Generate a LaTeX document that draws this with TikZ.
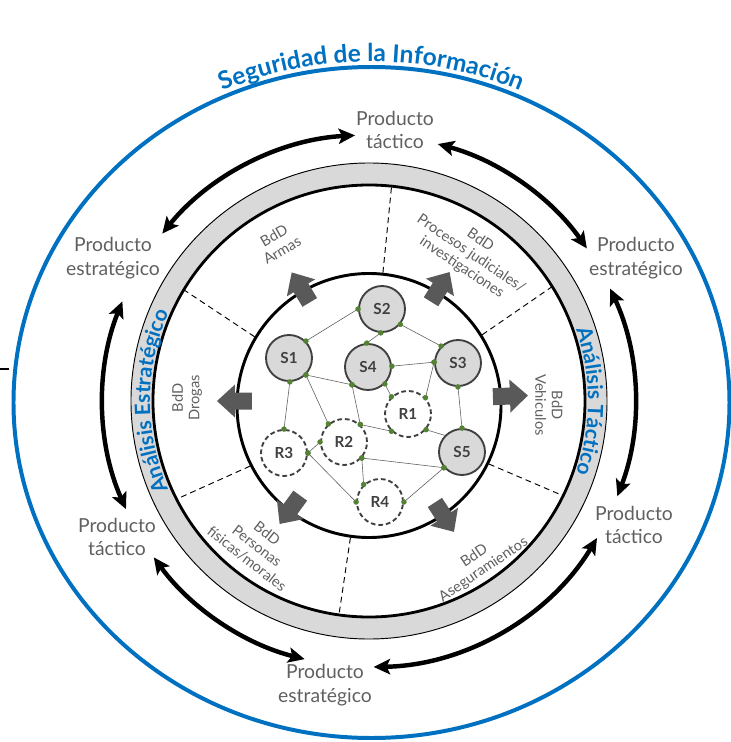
\documentclass[tikz,border=0pt]{standalone}
\usepackage{fontspec}
\setmainfont{Lato}
\usetikzlibrary{arrows.meta,decorations.text}

\definecolor{infoblue}{HTML}{0070C0}
\definecolor{ringgray}{HTML}{D9D9D9}
\definecolor{darkline}{HTML}{404040}
\definecolor{labelgray}{HTML}{606060}
\definecolor{dotgreen}{HTML}{548235}
\definecolor{blockgray}{HTML}{595959}

\begin{document}
\begin{tikzpicture}[x=0.03cm, y=0.03cm,
  sys/.style={circle, draw=darkline, line width=1.6pt, fill=ringgray, minimum size=1.38cm,
    inner sep=0pt, font=\fontsize{13}{13}\selectfont\bfseries, text=darkline},
  res/.style={sys, fill=white, dash pattern=on 4pt off 2.5pt},
  dotlink/.style={draw=labelgray, line width=0.5pt, shorten <=-2.3pt, shorten >=-2.3pt,
    {Circle[length=4.6pt,color=dotgreen]}-{Circle[length=4.6pt,color=dotgreen]}},
  prod/.style={align=center, text=labelgray, font=\fontsize{16.5}{20}\selectfont},
  sector/.style={align=center, text=labelgray, font=\fontsize{12.5}{14}\selectfont},
  divider/.style={line width=0.8pt, dash pattern=on 5pt off 3.5pt},
  cycarrow/.style={line width=3.8pt, {Stealth[length=14pt,width=13pt,inset=3pt]}-{Stealth[length=14pt,width=13pt,inset=3pt]}},
  blockarrow/.pic={\fill[blockgray] (0,-8.5) -- (17,-8.5) -- (17,-16.5) -- (35,0) -- (17,16.5) -- (17,8.5) -- (0,8.5) -- cycle;}]
\useasboundingbox (-369,-341) rectangle (362,401);

% outer frame
\draw[infoblue, line width=3.4pt] (2.5,-1.5) ellipse [x radius=358, y radius=335.5];
\path[decorate, decoration={text along path, text align=center,
  text={|\fontsize{21}{21}\selectfont\bfseries\color{infoblue}|Seguridad de la Información}}]
  (2.5,-1.5) ++(135:365 and 341) arc[start angle=135, end angle=45, x radius=365, y radius=341];
\draw[line width=1.2pt] (-369,32) -- (-360,32);

% gray ring
\node[circle, draw=black, line width=0.8pt, fill=ringgray, minimum size=14.28cm, inner sep=0pt] (ringout) at (0,0) {};
\node[circle, draw=black, line width=2.4pt, fill=white, minimum size=12.96cm, inner sep=0pt] (ringin) at (0,0) {};
\path[decorate, decoration={text along path, text align=center,
  text={|\fontsize{18}{18}\selectfont\bfseries\color{infoblue}|Análisis Estratégico}}]
  (215:219) arc[start angle=215, end angle=145, radius=219];
\path[decorate, decoration={text along path, text align=center,
  text={|\fontsize{18}{18}\selectfont\bfseries\color{infoblue}|Análisis Táctico}}]
  (30:219) arc[start angle=30, end angle=-30, radius=219];

% inner circle and sectors
\node[circle, draw=black, line width=2.5pt, minimum size=7.92cm, inner sep=0pt] (core) at (0,-4.5) {};
\foreach \a in {84,32,-26,-98,207,149}
  \draw[divider] (core.\a) -- (ringin.\a);
\foreach \a/\r in {121/115, 58/117, 2/124, 180/117, 234/117, -57/121}
  \pic[rotate=\a] at (\a:\r) {blockarrow};

\node[sector, rotate=30] (armas) at (-91,158) {BdD\\Armas};
\node[sector, rotate=-34] (procesos) at (102,147) {BdD\\Procesos judiciales/\\investigaciones};
\node[sector, rotate=-90] (vehiculos) at (180,-4) {BdD\\Vehiculos};
\node[sector, rotate=90] (drogas) at (-182,3) {BdD\\Drogas};
\node[sector, rotate=-38] (personas) at (-112,-145) {BdD\\Personas\\físicas/morales};
\node[sector, rotate=34] (aseguramientos) at (110,-162) {BdD\\Aseguramientos};

% network
\node[sys] (s1) at (-80,43) {S1};
\node[sys] (s2) at (13,92) {S2};
\node[sys] (s3) at (89,38) {S3};
\node[sys] (s4) at (-1,34) {S4};
\node[sys] (s5) at (93,-51) {S5};
\node[res] (r1) at (39,-13) {R1};
\node[res] (r2) at (-25,-41) {R2};
\node[res] (r3) at (-85,-52) {R3};
\node[res] (r4) at (11,-101) {R4};

\draw[dotlink] (s1.45) -- (s2.180);
\draw[dotlink] (s2.267) -- (s4.93);
\draw[dotlink] (s2.320) -- (s3.135);
\draw[dotlink] (s4.2) -- (s3.178);
\draw[dotlink] (s1.315) -- (s4.228);
\draw[dotlink] (s1.272) -- (r3.90);
\draw[dotlink] (s1.315) -- (r2.131);
\draw[dotlink] (s4.228) -- (r2.47);
\draw[dotlink] (s4.315) -- (r1.134);
\draw[dotlink] (s3.178) -- (r1.43);
\draw[dotlink] (s3.270) -- (s5.90);
\draw[dotlink] (r2.47) -- (r1.226);
\draw[dotlink, {Circle[length=4.6pt,color=dotgreen]}-, shorten >=0pt] (r1.319) -- (s5.136);
\draw[dotlink] (r2.318) -- (s5.221);
\draw[dotlink] (r2.180) -- (r3.0);
\draw[dotlink] (r3.0) -- (r4.180);
\draw[dotlink] (r2.318) -- (r4.133);
\draw[dotlink] (r4.0) -- (s5.221);

% products around the ring
\node[prod] (pt1) at (26,271) {Producto\\táctico};
\node[prod] (pe1) at (267,143) {Producto\\estratégico};
\node[prod] (pt2) at (265,-124) {Producto\\táctico};
\node[prod] (pe2) at (-44,-284) {Producto\\estratégico};
\node[prod] (pt3) at (-252,-136) {Producto\\táctico};
\node[prod] (pe3) at (-256,143) {Producto\\estratégico};
\foreach \a/\b in {141/93, 75/35, 25/-21, -31/-89, 256/216, 158/204}
  \draw[cycarrow] (\a:266) arc[start angle=\a, end angle=\b, radius=266];
\end{tikzpicture}
\end{document}
